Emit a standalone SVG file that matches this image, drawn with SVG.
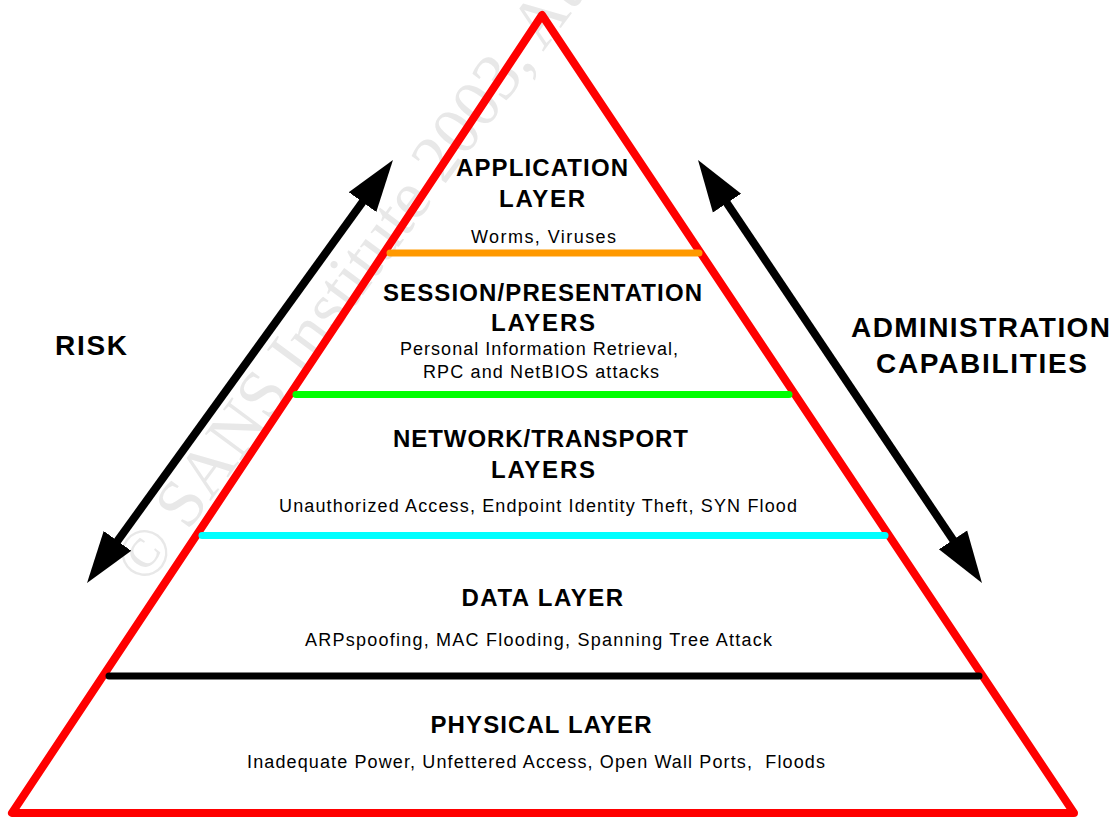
<svg xmlns="http://www.w3.org/2000/svg" width="1116" height="817" viewBox="0 0 1116 817">
<style>
.b{font-family:"Liberation Sans",Arial,sans-serif;font-weight:bold;fill:#000;}
.r{font-family:"Liberation Sans",Arial,sans-serif;fill:#000;}
.h{font-size:24px;}
.s{font-size:18px;}
.big{font-size:28px;}
.wm{font-family:"Liberation Serif","Times New Roman",serif;font-size:68px;fill:#e8e8e8;}
.div{stroke-width:7;stroke-linecap:round;fill:none;}
.arr{stroke:#000;stroke-width:8;fill:none;marker-start:url(#head);marker-end:url(#head);}
</style>
<defs>
<marker id="head" viewBox="0 0 52 36" refX="28" refY="18" markerWidth="52" markerHeight="36" markerUnits="userSpaceOnUse" orient="auto-start-reverse">
<path d="M0,1 L52,18 L0,35 Z" fill="#000"/>
</marker>
</defs>
<rect x="0" y="0" width="1116" height="817" fill="#fff"/>
<g id="watermark">
<text class="wm" transform="translate(147,587) rotate(-53.5)">© SANS Institute 2003, Au</text>
</g>
<g id="pyramid">
<polygon points="542,15 12,813 1074,813" fill="none" stroke="#ff0000" stroke-width="8" stroke-linejoin="round"/>
</g>
<g id="connectors">
<line class="div" x1="390" y1="253" x2="699" y2="253" stroke="#ff9900"/>
<line class="div" x1="296" y1="394.5" x2="789" y2="394.5" stroke="#00ff00"/>
<line class="div" x1="202" y1="535.5" x2="885" y2="535.5" stroke="#00ffff"/>
<line class="div" x1="109" y1="676" x2="979" y2="676" stroke="#000000"/>
<line class="arr" x1="101.1" y1="563.6" x2="378.9" y2="179.4"/>
<line class="arr" x1="711.4" y1="179.9" x2="968.6" y2="563.1"/>
</g>
<g id="application-layer">
<text class="b h" x="456" y="176" textLength="172" lengthAdjust="spacing">APPLICATION</text>
<text class="b h" x="499" y="207" textLength="86" lengthAdjust="spacing">LAYER</text>
<text class="r s" x="471" y="243" textLength="145" lengthAdjust="spacing">Worms, Viruses</text>
</g>
<g id="session-presentation-layers">
<text class="b h" x="383" y="300.5" textLength="319" lengthAdjust="spacing">SESSION/PRESENTATION</text>
<text class="b h" x="491" y="331" textLength="104" lengthAdjust="spacing">LAYERS</text>
<text class="r s" x="400" y="355" textLength="278" lengthAdjust="spacing">Personal Information Retrieval,</text>
<text class="r s" x="423" y="378.3" textLength="236" lengthAdjust="spacing">RPC and NetBIOS attacks</text>
</g>
<g id="network-transport-layers">
<text class="b h" x="393" y="447" textLength="295" lengthAdjust="spacing">NETWORK/TRANSPORT</text>
<text class="b h" x="491" y="478" textLength="104" lengthAdjust="spacing">LAYERS</text>
<text class="r s" x="279" y="511.7" textLength="518" lengthAdjust="spacing">Unauthorized Access, Endpoint Identity Theft, SYN Flood</text>
</g>
<g id="data-layer">
<text class="b h" x="461.5" y="605.7" textLength="161.5" lengthAdjust="spacing">DATA LAYER</text>
<text class="r s" x="305" y="645.7" textLength="467" lengthAdjust="spacing">ARPspoofing, MAC Flooding, Spanning Tree Attack</text>
</g>
<g id="physical-layer">
<text class="b h" x="430.5" y="733.3" textLength="221" lengthAdjust="spacing">PHYSICAL LAYER</text>
<text class="r s" x="247" y="768.3" textLength="578" lengthAdjust="spacing" xml:space="preserve">Inadequate Power, Unfettered Access, Open Wall Ports,  Floods</text>
</g>
<g id="risk">
<text class="b big" x="55" y="355" textLength="72" lengthAdjust="spacing">RISK</text>
</g>
<g id="administration-capabilities">
<text class="b big" x="851" y="337.3" textLength="259" lengthAdjust="spacing">ADMINISTRATION</text>
<text class="b big" x="876" y="372.7" textLength="211" lengthAdjust="spacing">CAPABILITIES</text>
</g>
</svg>
